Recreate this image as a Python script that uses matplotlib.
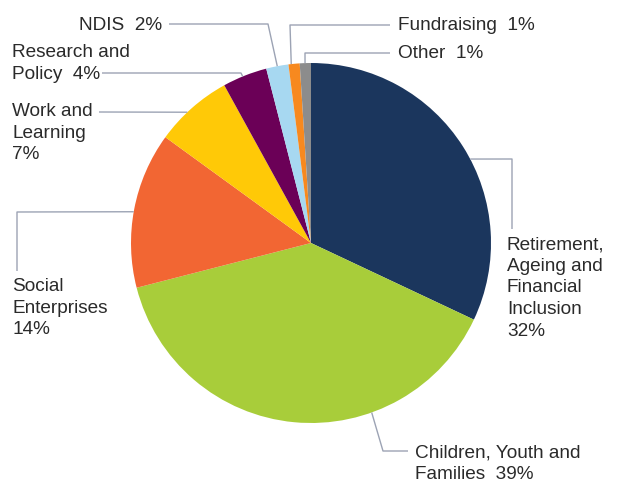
import matplotlib
matplotlib.use("Agg")
import matplotlib.pyplot as plt
import numpy as np

categories = ["Retirement, Ageing and Financial Inclusion", "Children, Youth and Families",
              "Social Enterprises", "Work and Learning", "Research and Policy", "NDIS",
              "Fundraising", "Other"]
values = [32, 39, 14, 7, 4, 2, 1, 1]
labels = ["Retirement,\nAgeing and\nFinancial\nInclusion\n32%",
          "Children, Youth and\nFamilies  39%",
          "Social\nEnterprises\n14%",
          "Work and\nLearning\n7%",
          "Research and\nPolicy  4%",
          "NDIS  2%",
          "Fundraising  1%",
          "Other  1%"]
colors = ["#1b365d", "#a8cd3a", "#f26633", "#ffc907", "#6b0057", "#a7d8f1", "#f7891f", "#8c8c8c"]

W, H = 623, 484
CX, CY, R = 311, 243, 180
def Y(py):
    return H - py

plt.rcParams['font.family'] = ['Liberation Sans', 'DejaVu Sans']
fig = plt.figure(figsize=(W / 100, H / 100), dpi=100)
ax = fig.add_axes([0, 0, 1, 1])
ax.pie(values, colors=colors, startangle=90, counterclock=False,
       center=(CX, Y(CY)), radius=R, frame=True,
       wedgeprops=dict(linewidth=0))
ax.set_xlim(0, W)
ax.set_ylim(0, H)
ax.axis('off')

# label layout: anchor angle on rim, leader path (pixel coords), text pos, alignment
layout = [
    dict(ang=27.8, path=[(512, 159), (512, 229)], txt=(507, 236), ha='left'),
    dict(ang=-70.3, path=[(383, 451), (408, 451)], txt=(415, 444), ha='left'),
    dict(ang=170.0, path=[(17, 212), (17, 271)], txt=(12, 278), ha='left'),
    dict(ang=133.4, path=[(99, 112)], txt=(12, 103), ha='left'),
    dict(ang=112.3, path=[(241, 73), (102, 73)], txt=(12, 44), ha='left'),
    dict(ang=100.8, path=[(268, 24), (169, 24)], txt=(162, 17), ha='right'),
    dict(ang=96.3, path=[(290, 25), (390, 25)], txt=(398, 17), ha='left'),
    dict(ang=91.9, path=[(305, 53), (390, 53)], txt=(398, 45), ha='left'),
]
line_col = "#9ca3b4"
for lab, lay in zip(labels, layout):
    a = np.deg2rad(lay['ang'])
    ax0 = CX + R * np.cos(a)
    ay0 = CY - R * np.sin(a)
    pts = [(ax0, ay0)] + lay['path']
    xs = [p[0] for p in pts]
    ys = [Y(p[1]) for p in pts]
    ax.plot(xs, ys, color=line_col, lw=1.0, solid_capstyle='butt')
    ax.text(lay['txt'][0], Y(lay['txt'][1]), lab, ha=lay['ha'], va='top',
            fontsize=13.7, color="#2a2a2a", linespacing=1.36)

fig.savefig("out.png", dpi=100)
